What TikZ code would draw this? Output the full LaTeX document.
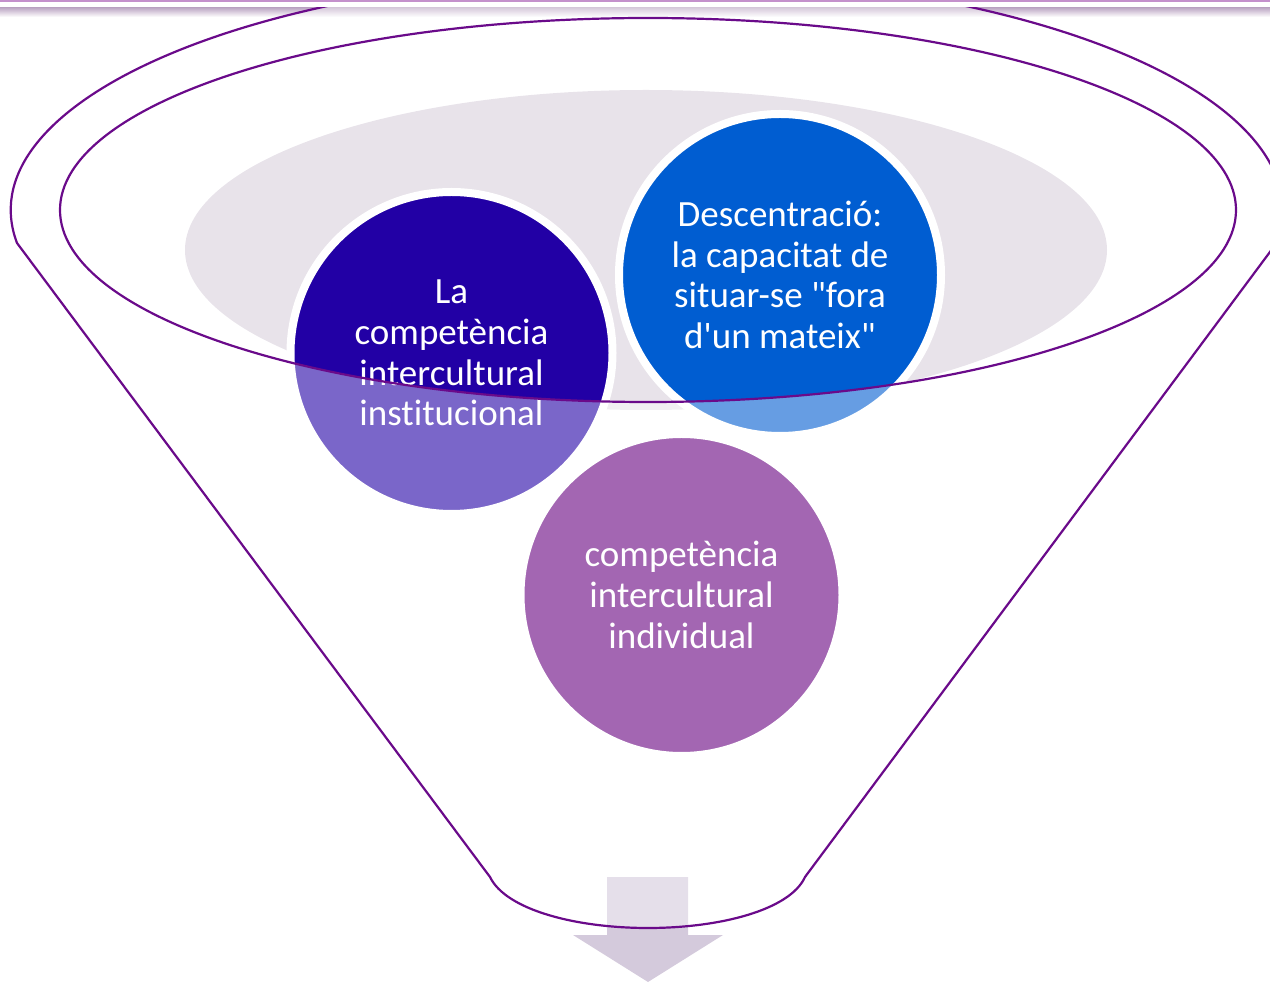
\documentclass[tikz,border=0pt]{standalone}
\usepackage{fontspec}
\setmainfont{Carlito}[Ligatures={NoCommon}]
\definecolor{funnelline}{HTML}{6A0A8A}
\definecolor{ellgray}{HTML}{E8E3EA}
\definecolor{arrowgray}{HTML}{D4CADC}
\definecolor{cdark}{HTML}{2200A5}
\definecolor{cblue}{HTML}{005DD1}
\definecolor{cpurple}{HTML}{660080}
\definecolor{headline}{HTML}{C490CC}
\definecolor{headshadow}{HTML}{B8A0C0}
\tikzset{
  bubble/.style={circle, draw=white, line width=4pt, minimum size=161pt, inner sep=0pt,
    align=center, text=white, font=\fontsize{18.5pt}{20.35pt}\selectfont},
  outline/.style={draw=funnelline, line width=1.1pt}
}
\begin{document}
\begin{tikzpicture}[x=0.5pt,y=0.5pt]
\useasboundingbox (0,0) rectangle (1270,-983);
% header shadow
\shade[top color=headshadow, bottom color=white] (0,-7) rectangle (1270,-17);
% arrow below funnel
\fill[arrowgray] (607,-877) -- (688,-877) -- (688,-935) -- (723,-935) -- (648,-982) -- (573,-935) -- (607,-935) -- cycle;
% gray ellipse
\fill[ellgray] (646,-250) ellipse[x radius=461, y radius=160];
% circles
\node[bubble, fill=cdark] (inst) at (451.5,-353) {La\\competència\\intercultural\\institucional};
\node[bubble, fill=cblue] (desc) at (780,-275) {Descentració:\\la capacitat de\\situar-se \textquotedbl fora\\d\textquotesingle un mateix\textquotedbl};
\node[bubble, fill=cpurple] (indiv) at (681.5,-595) {competència\\intercultural\\individual};
% fade of funnel interior outside the top ellipse
\fill[white, opacity=0.4, even odd rule]
  (17,-243) arc[start angle=188, end angle=-8, x radius=636, y radius=236]
  -- (805,-877) .. controls (790,-910) and (720,-928) .. (648,-928)
  .. controls (576,-928) and (506,-910) .. (490,-877) -- cycle
  (648,-210) ellipse[x radius=588, y radius=192];
% funnel outline
\draw[outline] (17,-243) arc[start angle=188, end angle=-8, x radius=636, y radius=236]
  -- (805,-877) .. controls (790,-910) and (720,-928) .. (648,-928)
  .. controls (576,-928) and (506,-910) .. (490,-877) -- cycle;
\draw[outline] (648,-210) ellipse[x radius=588, y radius=192];
% header
\fill[white] (0,0) rectangle (1270,-7);
\fill[headline] (0,0) rectangle (1270,-2);
\end{tikzpicture}
\end{document}
